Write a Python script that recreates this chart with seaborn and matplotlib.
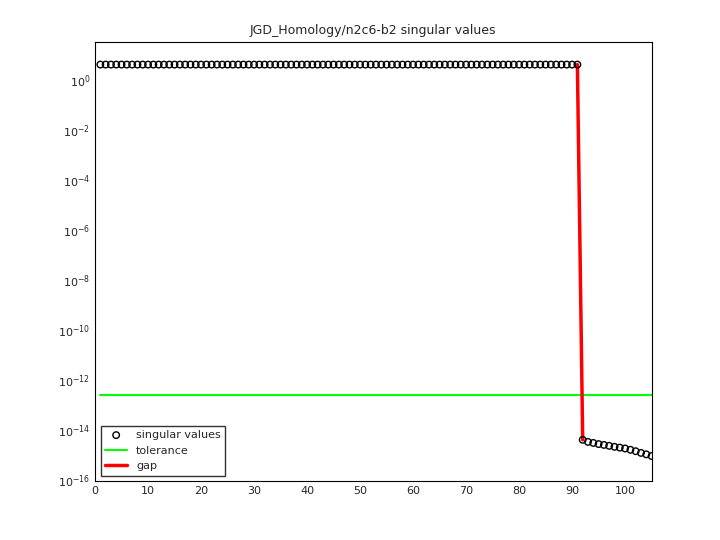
import matplotlib
matplotlib.use("Agg")
import matplotlib.pyplot as plt
import seaborn as sns
import numpy as np

sns.set_style("white")
plt.rcParams['font.family'] = ['DejaVu Sans']

top_vals = [4.0] * 91
tail_vals = [4e-15, 3.3e-15, 3.0e-15, 2.7e-15, 2.5e-15, 2.3e-15, 2.1e-15,
             1.95e-15, 1.8e-15, 1.6e-15, 1.4e-15, 1.2e-15, 1.05e-15, 9e-16]
sv = np.array(top_vals + tail_vals)
idx = np.arange(1, len(sv) + 1)
tolerance = 2.5e-13
gap_x = [91, 92]
gap_y = [4.0, 4e-15]

fig, ax = plt.subplots(figsize=(7.2, 5.4), dpi=100)
fig.subplots_adjust(left=0.132, right=0.905, top=0.922, bottom=0.109)
sns.scatterplot(x=idx, y=sv, ax=ax, marker='o', facecolors='none', edgecolor='black',
                s=22, linewidth=1, label='singular values', zorder=3)
sns.lineplot(x=[1, 105], y=[tolerance, tolerance], ax=ax, color='#00ff00', linewidth=1.5, label='tolerance')
sns.lineplot(x=gap_x, y=gap_y, ax=ax, color='red', linewidth=2.5, label='gap')
ax.set_yscale('log')
ax.set_xlim(0, 105)
ax.set_ylim(10**-16.05, 10**1.5)
ax.set_xticks(range(0, 101, 10))
ax.set_yticks([10.0**k for k in range(-16, 1, 2)])
ax.minorticks_off()
ax.tick_params(labelsize=8, direction='in', length=4)
for s in ax.spines.values():
    s.set_color('black'); s.set_linewidth(0.8)
ax.set_title('JGD_Homology/n2c6-b2 singular values', fontsize=9)
ax.legend(loc='lower left', fontsize=8, frameon=True, fancybox=False, edgecolor='black')
fig.savefig('out.png')
